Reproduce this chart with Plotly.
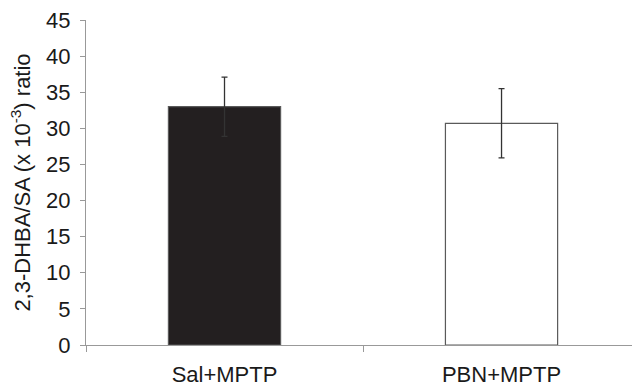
import plotly.graph_objects as go

categories = ["Sal+MPTP", "PBN+MPTP"]
values = [33.0, 30.7]
errors = [4.1, 4.8]
fill_colors = ["#231f20", "#ffffff"]
y_ticks = [0, 5, 10, 15, 20, 25, 30, 35, 40, 45]

fig = go.Figure()
fig.add_trace(go.Bar(
    x=categories, y=values,
    marker=dict(color=fill_colors, line=dict(color="#5a5a5a", width=1.2)),
    error_y=dict(type="data", array=errors, visible=True, color="#333333",
                 thickness=1.3, width=3),
    width=0.405,
))

fig.update_layout(
    width=632, height=387,
    margin=dict(l=86, r=0, t=20, b=40),
    paper_bgcolor="white", plot_bgcolor="white",
    showlegend=False,
    font=dict(family="Liberation Sans, Arial, sans-serif", size=22, color="#1a1a1a"),
    xaxis=dict(
        range=[-0.5, 1.471],
        showline=True, linecolor="#999999", linewidth=1,
        ticks="outside", tickson="boundaries", ticklen=6, tickcolor="#999999",
        tickfont=dict(size=22), ticklabelstandoff=10,
        showgrid=False, zeroline=False,
    ),
    yaxis=dict(
        range=[0, 45], tickvals=y_ticks,
        showline=True, linecolor="#999999", linewidth=1,
        ticks="outside", ticklen=5, tickcolor="#999999",
        tickfont=dict(size=22), ticklabelstandoff=5,
        showgrid=False, zeroline=False,
        title=dict(text="2,3-DHBA/SA (x 10<sup>-3</sup>) ratio", font=dict(size=22), standoff=9),
    ),
)

fig.write_html("out.html", config={"displayModeBar": False},
               post_script="document.body.style.margin='0';document.body.style.overflow='hidden';")
